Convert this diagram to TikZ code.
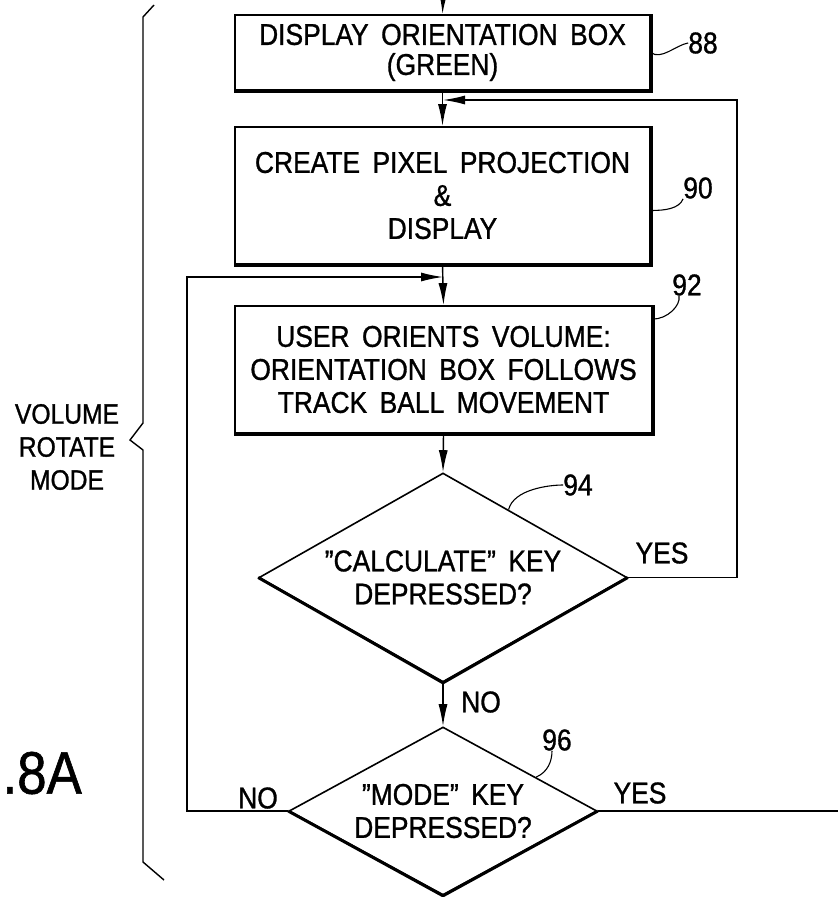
\documentclass[tikz,border=0pt]{standalone}
\usepackage{fontspec}
\setmainfont{Liberation Sans}[FakeStretch=0.88,WordSpace=1.7,FakeBold=1]
\usetikzlibrary{shapes.geometric,arrows.meta}
\begin{document}
\begin{tikzpicture}[x=1pt,y=-1pt,
    font=\fontsize{30}{33}\selectfont,
    every node/.style={inner sep=0pt},
    stepbox/.style={draw,line width=1.8pt,align=center},
    decision/.style={draw,diamond,aspect=1.8,line width=1.6pt,align=center},
    flow/.style={line width=1.4pt,-{Latex[length=22pt,width=9pt]}},
    leader/.style={line width=1.1pt}]
    \useasboundingbox (0,0) rectangle (838,897);
    % Process boxes and decisions
    \node[stepbox,minimum width=415pt,minimum height=75pt] (disp) at (442.5,52.5) {DISPLAY ORIENTATION BOX\\[-3pt](GREEN)};
    \node[stepbox,minimum width=415pt,minimum height=137pt] (proj) at (442.5,195.5) {CREATE PIXEL PROJECTION\\\&\\DISPLAY};
    \node[stepbox,minimum width=417pt,minimum height=127pt] (orient) at (443.5,369.5) {USER ORIENTS VOLUME:\\ORIENTATION BOX FOLLOWS\\TRACK BALL MOVEMENT};
    \node[decision,minimum width=368pt,minimum height=209pt] (calc) at (443,577.5) {''CALCULATE'' KEY\\DEPRESSED?};
    \node[decision,minimum width=308pt,minimum height=168pt] (mode) at (443,811) {''MODE'' KEY\\DEPRESSED?};
    % Heavier lower edges
    \foreach \b in {disp,proj,orient}
        \draw[line width=3.2pt] (\b.north east) -- (\b.south east) -- (\b.south west);
    \foreach \d in {calc,mode}
        \draw[line width=3pt] (\d.west) -- (\d.south) -- (\d.east);
    % Reference numerals and branch labels
    \node (lbl88) at (703,43) {88};
    \node (lbl90) at (698,188) {90};
    \node (lbl92) at (687,285) {92};
    \node (lbl94) at (578,485) {94};
    \node (lbl96) at (557,740) {96};
    \node (yes1) at (662,553) {YES};
    \node (no1) at (481,702) {NO};
    \node (no2) at (258,798) {NO};
    \node (yes2) at (640,793) {YES};
    \node[align=center,font=\fontsize{28}{33}\selectfont] (vrm) at (67,447) {VOLUME\\ROTATE\\MODE};
    \node[anchor=east,font=\fontsize{60}{60}\selectfont] (fig) at (82,773) {.8A};
    % Connectors
    \coordinate (entry) at (443,0);
    \coordinate (joinA) at (443,100);
    \coordinate (joinB) at (443,277);
    \coordinate (exit) at (838,811);
    \draw[flow] (entry) -- (disp.north);
    \draw[flow] (disp.south) -- (proj.north);
    \draw[flow] (proj.south) -- (orient.north);
    \draw[flow] (orient.south) -- (calc.north);
    \draw[flow] (calc.south) -- (mode.north);
    \draw[flow] (calc.east) -| (737,100) -- (joinA);
    \draw[flow] (mode.west) -| (187,277) -- (joinB);
    \draw[line width=1.4pt] (mode.east) -- (exit);
    % Leaders
    \draw[leader] (disp.east) .. controls +(10,8) and +(-12,2) .. (lbl88.west);
    \draw[leader] ([yshift=-15pt]proj.east) .. controls +(14,0) and +(-4,10) .. (lbl90.south west);
    \draw[leader] ([yshift=-14pt]orient.north east) .. controls +(14,0) and +(2,10) .. ([xshift=-8pt]lbl92.south);
    \draw[leader] (calc.46) .. controls +(5,-20) and +(-15,0) .. (lbl94.west);
    \draw[leader] (mode.20) .. controls +(12,-5) and +(0,10) .. ([xshift=-5pt]lbl96.south);
    % Bracket
    \draw[line width=1.4pt] (154,5) -- (143,17) -- (143,423) -- (130,440) -- (143,450) -- (143,862) -- (164,880);
\end{tikzpicture}
\end{document}
